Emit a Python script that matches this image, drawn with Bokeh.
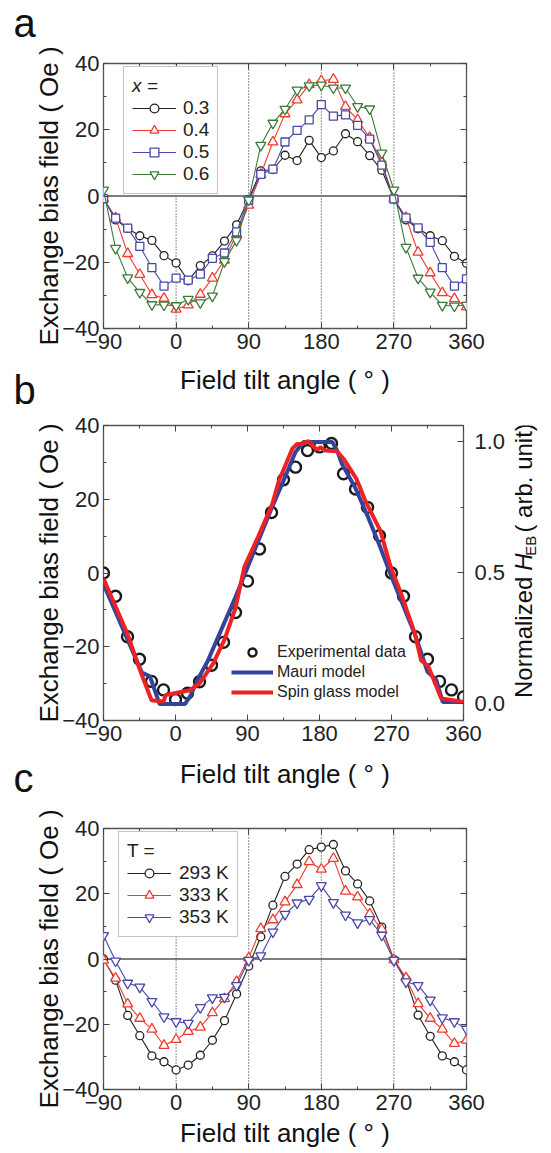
from bokeh.plotting import figure
from bokeh.models import (Range1d, LinearAxis, FixedTicker, Span, Legend, LegendItem,
                          Label, PrintfTickFormatter, CustomJSTickFormatter)
from bokeh.layouts import column, row
from bokeh.embed import file_html
from bokeh.resources import INLINE

FONT = "Liberation Sans"

# ---------------- data ----------------
angles = [-90, -75, -60, -45, -30, -15, 0, 15, 30, 45, 60, 75, 90, 105, 120, 135, 150,
          165, 180, 195, 210, 225, 240, 255, 270, 285, 300, 315, 330, 345, 360]

# panel a : composition x
a_x03 = [-0.8, -7.2, -9.8, -12.0, -13.4, -18.0, -20.2, -25.6, -21.0, -18.1, -13.6, -8.7, -1.0,
         7.6, 8.0, 12.3, 10.7, 16.8, 11.6, 13.6, 18.8, 16.4, 12.2, 7.8, -0.9, -7.2, -9.9,
         -12.0, -13.5, -18.2, -20.3]
a_x04 = [-0.8, -6.6, -17.4, -23.7, -29.8, -30.9, -34.2, -32.9, -29.7, -24.8, -19.4, -11.5, -2.8,
         6.5, 16.3, 24.8, 29.0, 33.6, 34.8, 35.2, 27.0, 23.0, 17.6, 10.1, -0.9, -6.5, -17.0,
         -23.2, -29.2, -31.0, -33.5]
a_x05 = [-0.8, -6.7, -9.7, -15.2, -21.6, -27.2, -24.8, -25.4, -23.6, -18.8, -17.2, -10.8, -1.2,
         6.5, 8.1, 16.3, 19.8, 23.0, 27.6, 24.1, 24.5, 21.3, 17.2, 9.3, -0.9, -6.6, -9.6,
         -14.0, -21.6, -27.2, -25.0]
a_x06 = [1.8, -15.8, -24.7, -29.1, -32.8, -32.9, -33.1, -31.2, -32.2, -30.2, -19.8, -13.4, -1.2,
         15.3, 22.0, 26.2, 32.0, 33.3, 33.5, 32.6, 32.6, 27.0, 26.3, 13.0, 1.8, -15.5, -24.8,
         -29.0, -33.0, -33.2, -33.0]
a_labels = ["0.3", "0.4", "0.5", "0.6"]

# panel b : experiment and models
b_exp = [0.0, -6.3, -17.3, -23.4, -29.4, -31.7, -34.3, -32.6, -29.5, -25.0, -18.8, -10.7, -2.2,
         6.5, 16.4, 25.3, 28.7, 33.2, 34.2, 35.1, 26.9, 22.8, 17.8, 10.1, 0.0, -6.3, -17.3,
         -23.4, -29.4, -31.7, -33.6]
mauri_x = [-90, -81, -60, -45, -42, -32, -20, 12, 18, 30, 40, 60, 75, 90, 105, 120, 135, 150,
           160, 196, 202, 208, 225, 240, 255, 270, 285, 300, 315, 326, 334, 360]
mauri_y = [-3.0, -7.5, -18.0, -25.5, -27.0, -28.0, -35.5, -35.5, -33.5, -28.0, -24.0, -14.0,
           -6.5, 1.5, 9.5, 17.5, 25.0, 32.8, 35.5, 35.5, 33.2, 29.6, 23.0, 15.5, 7.5, -1.0,
           -9.0, -17.0, -26.8, -29.0, -35.0, -35.0]
sg_x = [-90, -75, -60, -45, -30, -20, -15, -12, 18, 30, 47, 61, 75, 86, 103, 121, 129, 146, 152,
        158, 166, 171, 177, 181, 187, 202, 210, 226, 237, 256, 269, 282, 299, 307, 316, 332, 360]
sg_y = [-1.5, -9.0, -16.5, -26.0, -34.5, -34.8, -34.8, -33.1, -31.8, -30.0, -24.6, -18.2, -9.5,
        1.6, 9.7, 18.7, 24.9, 33.7, 35.0, 35.0, 35.8, 34.6, 33.4, 34.1, 33.2, 33.0, 31.0, 25.6,
        19.7, 11.5, 1.6, -5.6, -16.3, -23.7, -25.3, -34.0, -35.0]
b_labels = ["Experimental data", "Mauri model", "Spin glass model"]

# panel c : temperature
c_293 = [0.0, -6.5, -17.3, -23.5, -29.7, -31.5, -34.0, -32.5, -29.5, -24.9, -18.9, -10.7, -2.2,
         6.8, 16.5, 25.3, 29.1, 33.5, 34.3, 35.1, 27.0, 23.0, 17.8, 9.8, -0.2, -6.2, -17.2,
         -23.7, -29.7, -31.5, -34.0]
c_333 = [-0.4, -5.9, -13.8, -18.2, -21.5, -26.5, -24.7, -22.2, -20.9, -16.5, -12.2, -6.9, 0.3,
         9.3, 12.0, 17.5, 22.8, 29.8, 27.5, 30.8, 20.8, 19.0, 13.8, 9.1, -0.2, -5.8, -13.7,
         -18.2, -21.5, -25.9, -24.9]
c_353 = [7.2, -0.6, -7.4, -8.6, -13.0, -17.7, -19.2, -19.7, -14.9, -11.9, -11.7, -8.1, -0.4,
         1.0, 8.3, 13.7, 17.2, 18.3, 22.5, 17.3, 13.5, 11.1, 12.1, 7.3, -0.4, -7.0, -8.1,
         -12.6, -18.0, -19.2, -21.5]
c_labels = ["293 K", "333 K", "353 K"]

panel_letters = ["a", "b", "c"]
x_title = "Field tilt angle ( ° )"
y_title = "Exchange bias field ( Oe )"
x_ticks = [-90, 0, 90, 180, 270, 360]
x_minor = [-45, 45, 135, 225, 315]
y_ticks = [-40, -20, 0, 20, 40]
y_minor = [-30, -10, 10, 30]
norm_ticks = [0.0, 0.5, 1.0]
norm_minor = [0.25, 0.75]
dotted_at = [0, 90, 180, 270]

BLACK = "#222222"
RED = "#f03a30"
BLUE = "#4848a8"
GREEN = "#3d7a38"
W = 551
TITLE_PX = "26px"
LETTER_PX = "40px"


def style_axis(ax, show_labels):
    ax.major_tick_in = 6
    ax.major_tick_out = 0
    ax.minor_tick_in = 3
    ax.minor_tick_out = 0
    ax.major_tick_line_color = "#444444"
    ax.minor_tick_line_color = "#444444"
    ax.axis_line_color = None
    if show_labels:
        ax.major_label_text_font = FONT
        ax.major_label_text_font_size = "22px"
        ax.major_label_text_color = "#222222"
        ax.axis_label_text_font = FONT
        ax.axis_label_text_font_size = TITLE_PX
        ax.axis_label_text_font_style = "normal"
        ax.axis_label_text_color = "#111111"
    else:
        ax.formatter = CustomJSTickFormatter(code="return '';")
        ax.major_label_standoff = 0
        ax.major_label_text_font_size = "1px"


def base_fig(width, height, top, bottom, right, right_axis=True, x_label=False):
    p = figure(width=width, height=height, x_range=Range1d(-90, 360), y_range=Range1d(-40, 40),
               output_backend="svg", toolbar_location=None, title=None,
               min_border_left=103, min_border_right=right,
               min_border_top=top, min_border_bottom=bottom)
    p.xgrid.visible = False
    p.ygrid.visible = False
    p.outline_line_color = "#555555"
    p.outline_line_width = 1.3
    xa = p.xaxis[0]
    ya = p.yaxis[0]
    xa.ticker = FixedTicker(ticks=x_ticks, minor_ticks=x_minor)
    ya.ticker = FixedTicker(ticks=y_ticks, minor_ticks=y_minor)
    style_axis(xa, True)
    style_axis(ya, True)
    if x_label:
        xa.axis_label = x_title
    ya.axis_label = y_title
    ya.major_label_standoff = 4
    ya.axis_label_standoff = -5
    top_ax = LinearAxis(ticker=FixedTicker(ticks=x_ticks, minor_ticks=x_minor))
    style_axis(top_ax, False)
    p.add_layout(top_ax, "above")
    if right_axis:
        r_ax = LinearAxis(ticker=FixedTicker(ticks=y_ticks, minor_ticks=y_minor))
        style_axis(r_ax, False)
        p.add_layout(r_ax, "right")
    return p


def plain_fig(width, height):
    p = figure(width=width, height=height, x_range=Range1d(0, width), y_range=Range1d(0, height),
               output_backend="svg", toolbar_location=None, title=None,
               x_axis_location=None, y_axis_location=None,
               min_border_left=0, min_border_right=0, min_border_top=0, min_border_bottom=0)
    p.xgrid.visible = False
    p.ygrid.visible = False
    p.outline_line_color = None
    return p


def text_label(p, x, y_center, txt, size, align="left"):
    # y_center: vertical middle of the text box, measured up from the strip bottom
    p.add_layout(Label(x=x, y=y_center, text=txt, text_font=FONT, text_font_size=size,
                       text_color="#111111", text_align=align, text_baseline="middle"))


def add_guides(p):
    for d in dotted_at:
        p.add_layout(Span(location=d, dimension="height", line_color="#222222",
                          line_dash="1 2", line_width=1, level="underlay"))
    p.add_layout(Span(location=0, dimension="width", line_color="#555555",
                      line_width=1.6, level="underlay"))


def add_series(p, ys, color, marker, size, label):
    l = p.line(angles, ys, line_color=color, line_width=1.1)
    s = p.scatter(angles, ys, marker=marker, size=size, fill_color="white",
                  line_color=color, line_width=1.3)
    return LegendItem(label=label, renderers=[l, s])


def style_legend(leg, glyph_w, row_h, title_style, standoff):
    leg.title_text_font = FONT
    leg.title_text_font_size = "19px"
    leg.title_text_font_style = title_style
    leg.title_text_color = "#222222"
    leg.title_standoff = 0
    leg.label_text_font = FONT
    leg.label_text_font_size = "19px"
    leg.label_text_color = "#222222"
    leg.glyph_width = glyph_w
    leg.glyph_height = row_h
    leg.label_height = row_h
    leg.label_standoff = standoff
    leg.spacing = 0
    leg.padding = 8
    leg.margin = 0
    leg.border_line_color = "#8a8a8a"
    leg.border_line_width = 1.2
    leg.background_fill_color = "white"
    leg.background_fill_alpha = 1.0


# page y-positions (px from the top) of the horizontal bands
S0_TOP, FA_TOP, S1_TOP, FB_TOP, S2_TOP, FC_TOP, END = 0, 45, 364, 412, 751, 800, 1150

# ---------------- strip with letter a ----------------
s0 = plain_fig(W, FA_TOP - S0_TOP)
text_label(s0, 13, FA_TOP - 22.5, panel_letters[0], LETTER_PX)

# ---------------- panel a ----------------
fa = base_fig(W, S1_TOP - FA_TOP, 63 - FA_TOP, S1_TOP - 328, 85)
add_guides(fa)
items_a = [
    add_series(fa, a_x03, BLACK, "circle", 8, a_labels[0]),
    add_series(fa, a_x04, RED, "triangle", 10, a_labels[1]),
    add_series(fa, a_x05, BLUE, "square", 8, a_labels[2]),
    add_series(fa, a_x06, GREEN, "inverted_triangle", 10, a_labels[3]),
]
fa.xaxis[0].major_label_standoff = 9
leg_a = Legend(items=items_a, location=(20, 134), title="x =")
style_legend(leg_a, 44, 22, "italic", 7)
fa.add_layout(leg_a)

# ---------------- strip: x title of a, letter b ----------------
s1 = plain_fig(W, FB_TOP - S1_TOP)
text_label(s1, 284.5, FB_TOP - 379, x_title, TITLE_PX, "center")
text_label(s1, 13, FB_TOP - 389.5, panel_letters[1], LETTER_PX)

# ---------------- panel b ----------------
RT_W = 43
FB_H = S2_TOP - FB_TOP
fb = base_fig(W - RT_W, FB_H, 425 - FB_TOP, S2_TOP - 720, 42, right_axis=False)
fb.extra_y_ranges = {"norm": Range1d(-0.065, 1.062)}
rax = LinearAxis(y_range_name="norm",
                 ticker=FixedTicker(ticks=norm_ticks, minor_ticks=norm_minor),
                 formatter=PrintfTickFormatter(format="%.1f"))
style_axis(rax, True)
rax.major_label_standoff = 11
fb.add_layout(rax, "right")
fb.xaxis[0].major_label_standoff = 4

exp_r = fb.scatter(angles, b_exp, marker="circle", size=11, fill_color=None,
                   line_color="#1a1a1a", line_width=2.4)
mauri_r = fb.line(mauri_x, mauri_y, line_color="#34449a", line_width=4)
sg_r = fb.line(sg_x, sg_y, line_color="#ee2222", line_width=4)
leg_b = Legend(items=[LegendItem(label=b_labels[0], renderers=[exp_r]),
                      LegendItem(label=b_labels[1], renderers=[mauri_r]),
                      LegendItem(label=b_labels[2], renderers=[sg_r])],
               location=(128, 18))
leg_b.label_text_font = FONT
leg_b.label_text_font_size = "16px"
leg_b.label_text_color = "#222222"
leg_b.glyph_width = 42
leg_b.glyph_height = 20
leg_b.label_height = 20
leg_b.label_standoff = 4
leg_b.spacing = 0
leg_b.padding = 0
leg_b.margin = 0
leg_b.border_line_color = None
leg_b.background_fill_alpha = 0
fb.add_layout(leg_b)

# right-hand axis title strip for panel b (italic H with subscript EB)
rt = plain_fig(RT_W, FB_H)
rt_common = dict(text_font=FONT, text_color="#111111", angle=1.5707963, text_baseline="middle")
rt.add_layout(Label(x=15, y=S2_TOP - 585.7, text="Normalized", text_align="right",
                    text_font_size="24px", **rt_common))
rt.add_layout(Label(x=15, y=S2_TOP - 579, text="H", text_align="left",
                    text_font_style="italic", text_font_size="24px", **rt_common))
rt.add_layout(Label(x=22, y=S2_TOP - 561.7, text="EB", text_align="left",
                    text_font_size="15px", **rt_common))
rt.add_layout(Label(x=15, y=S2_TOP - 535, text="( arb. unit)", text_align="left",
                    text_font_size="24px", **rt_common))

# ---------------- strip: x title of b, letter c ----------------
s2 = plain_fig(W, FC_TOP - S2_TOP)
text_label(s2, 284.5, FC_TOP - 773, x_title, TITLE_PX, "center")
text_label(s2, 13, FC_TOP - 777.5, panel_letters[2], LETTER_PX)

# ---------------- panel c ----------------
fc = base_fig(W, END - FC_TOP, 828 - FC_TOP, END - 1094, 85, x_label=True)
add_guides(fc)
items_c = [
    add_series(fc, c_293, BLACK, "circle", 8, c_labels[0]),
    add_series(fc, c_333, RED, "triangle", 10, c_labels[1]),
    add_series(fc, c_353, BLUE, "inverted_triangle", 10, c_labels[2]),
]
fc.xaxis[0].major_label_standoff = 8
fc.xaxis[0].axis_label_standoff = -6
leg_c = Legend(items=items_c, location=(15, 152), title="T =")
style_legend(leg_c, 44, 22, "normal", 8)
fc.add_layout(leg_c)

layout = column(row(s0), row(fa), row(s1), row(fb, rt), row(s2), row(fc))
open("out.html", "w").write(file_html(layout, INLINE, title="Exchange bias field vs field tilt angle"))
